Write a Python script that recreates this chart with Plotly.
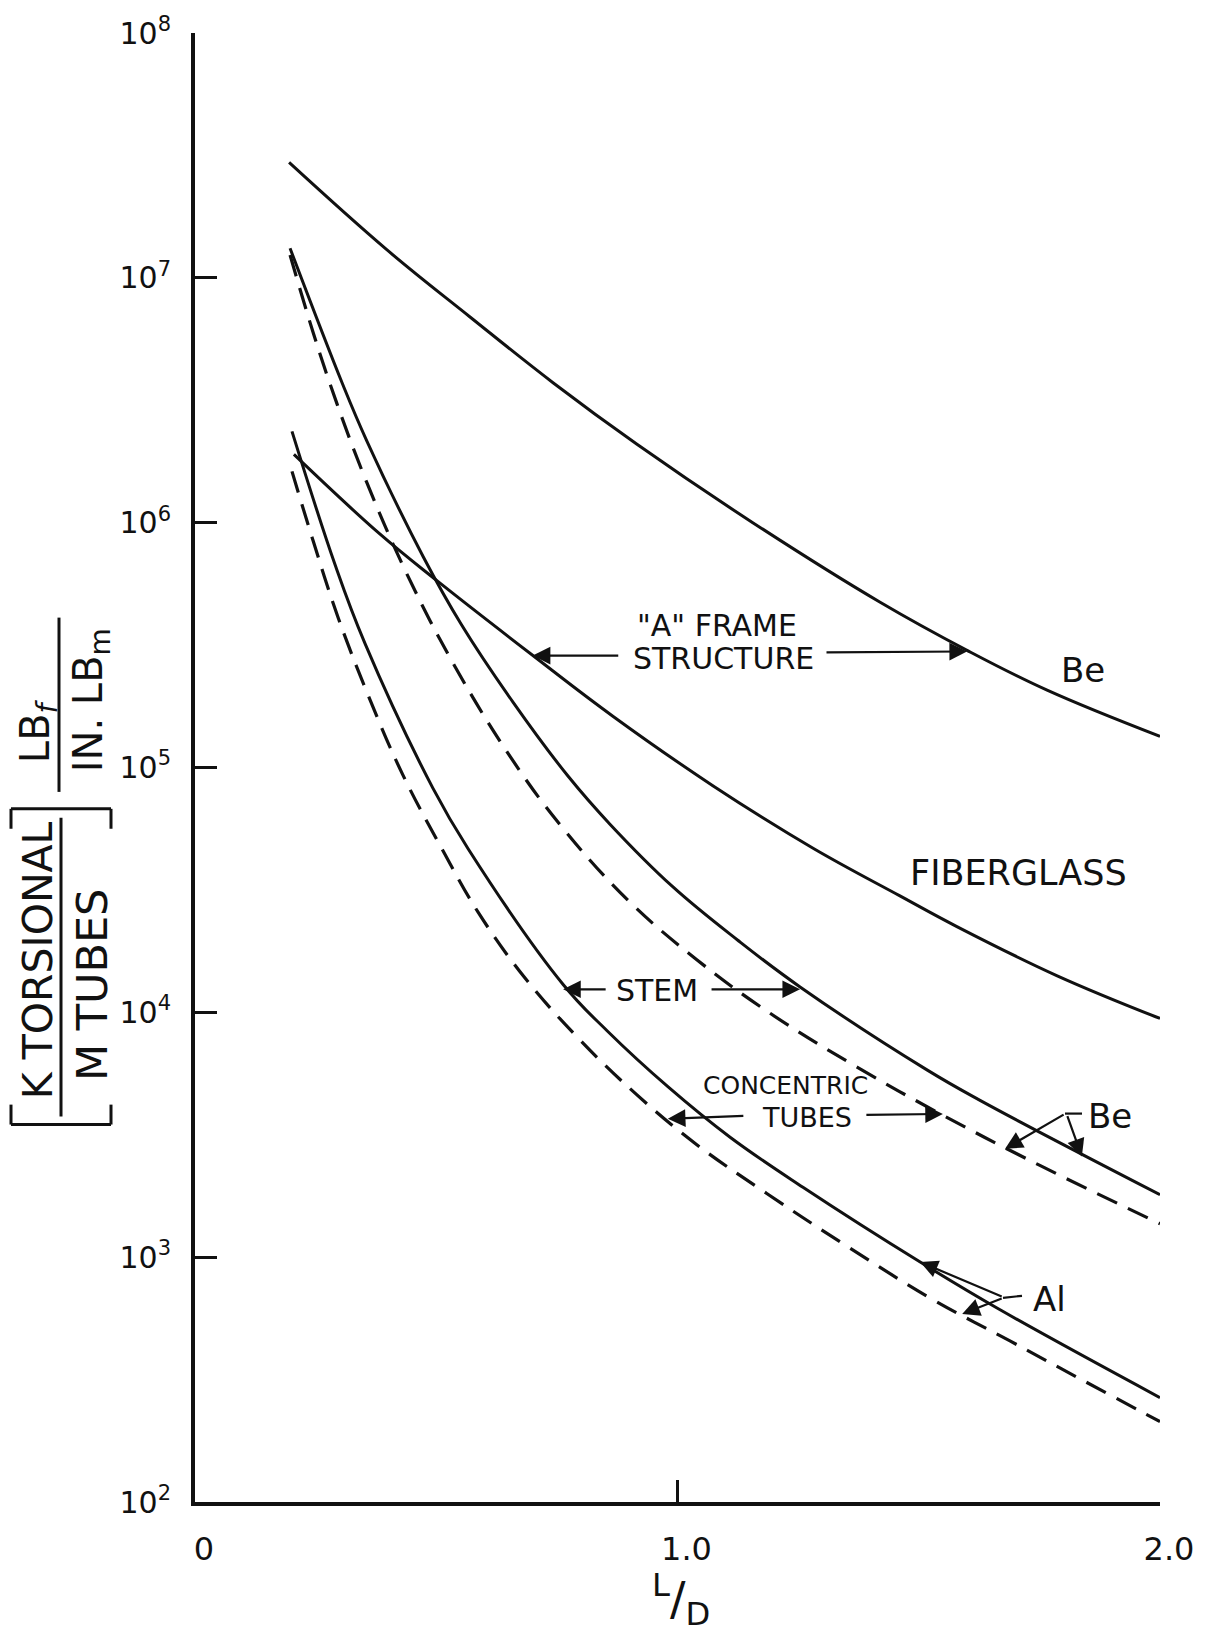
import plotly.graph_objects as go

# ---------------- data ----------------
# "A" frame structure, Be (solid)
ld_be_frame = [0.195, 0.398, 0.570, 0.742, 0.916, 1.156, 1.420, 1.600, 1.766, 2.0]
k_be_frame = [2.96e7, 1.30e7, 6.92e6, 3.73e6, 2.09e6, 1.00e6, 4.73e5, 3.01e5, 2.07e5, 1.34e5]

# "A" frame structure, fiberglass (solid)
ld_fg_frame = [0.205, 0.383, 0.502, 0.701, 0.866, 1.074, 1.281, 1.461, 1.579, 1.787, 2.0]
k_fg_frame = [1.90e6, 8.99e5, 5.78e5, 2.86e5, 1.62e5, 8.41e4, 4.68e4, 2.99e4, 2.24e4, 1.41e4, 9.44e3]

# Stem, Be (solid)
ld_be_stem = [0.197, 0.305, 0.356, 0.473, 0.553, 0.659, 0.773, 0.860, 0.990, 1.125, 1.254,
              1.517, 1.627, 2.0]
k_be_stem = [1.32e7, 3.72e6, 2.16e6, 7.26e5, 3.81e5, 1.85e5, 9.23e4, 5.87e4, 3.26e4, 1.97e4,
             1.27e4, 5.82e3, 4.37e3, 1.80e3]

# Concentric tubes, Be (dashed)
ld_be_tubes = [0.197, 0.245, 0.294, 0.356, 0.439, 0.539, 0.653, 0.756, 0.895, 1.040, 1.192,
               1.373, 1.551, 1.751, 2.0]
k_be_tubes = [1.24e7, 5.97e6, 3.07e6, 1.46e6, 6.18e5, 2.58e5, 1.11e5, 5.86e4, 2.90e4, 1.64e4,
              9.91e3, 5.96e3, 3.79e3, 2.37e3, 1.37e3]

# Stem, Al (solid)
ld_al_stem = [0.201, 0.290, 0.352, 0.493, 0.566, 0.763, 0.854, 0.980, 1.109, 1.260, 1.503,
              1.664, 2.0]
k_al_stem = [2.36e6, 6.76e5, 3.22e5, 8.24e4, 4.66e4, 1.30e4, 8.41e3, 4.97e3, 3.09e3, 1.93e3,
             955, 617, 267]

# Concentric tubes, Al (dashed)
ld_al_tubes = [0.201, 0.245, 0.296, 0.359, 0.431, 0.514, 0.587, 0.684, 0.798, 0.916, 1.040,
               1.185, 1.351, 1.527, 1.689, 1.840, 2.0]
k_al_tubes = [1.62e6, 8.41e5, 4.13e5, 1.97e5, 9.31e4, 4.57e4, 2.56e4, 1.38e4, 7.71e3, 4.60e3,
              2.88e3, 1.82e3, 1.11e3, 675, 455, 314, 213]

# axis ticks
x_tick_vals = [0, 1, 2]
x_tick_text = ["0", "1.0", "2.0"]
y_tick_vals = [1e2, 1e3, 1e4, 1e5, 1e6, 1e7, 1e8]
y_tick_text = ["10<sup>2</sup>", "10<sup>3</sup>", "10<sup>4</sup>", "10<sup>5</sup>",
               "10<sup>6</sup>", "10<sup>7</sup>", "10<sup>8</sup>"]

# callout arrows: (tip L/D, tip log10 K, tail offset x px, tail offset y px)
callout_arrows = [
    (0.700, 5.457, 87, 0),      # "A" frame -> fiberglass
    (1.600, 5.474, -142, 1),    # "A" frame -> Be
    (0.763, 4.094, 44, 0),      # stem -> Al
    (1.254, 4.094, -90, 0),     # stem -> Be
    (0.980, 3.565, 77, -3),     # tubes -> Al
    (1.550, 3.585, -78, 1),     # tubes -> Be
    (1.679, 3.443, 60, -35),    # Be -> tubes
    (1.838, 3.411, -15, -42),   # Be -> stem
    (1.503, 2.980, 83, 35),     # Al -> stem
    (1.590, 2.768, 41, -16),    # Al -> tubes
]

# ---------------- figure ----------------
FONT = "DejaVu Sans"
INK = "#111111"

W, H = 1210, 1632
ML, MR, MT, MB = 195, 50, 27, 130
PW = W - ML - MR
PH = H - MT - MB


def PX(px):
    return (px - ML) / PW


def PY(py):
    return (H - MB - py) / PH


fig = go.Figure()

series = [
    (ld_be_frame, k_be_frame, "solid", 3),
    (ld_fg_frame, k_fg_frame, "solid", 3),
    (ld_be_stem, k_be_stem, "solid", 3),
    (ld_be_tubes, k_be_tubes, "22px,12px", 3.2),
    (ld_al_stem, k_al_stem, "solid", 3),
    (ld_al_tubes, k_al_tubes, "22px,12px", 3.2),
]
for xs, ys, dash, w in series:
    fig.add_trace(go.Scatter(
        x=xs, y=ys, mode="lines",
        line=dict(color=INK, width=w, dash=dash, shape="spline", smoothing=1.1),
        hoverinfo="skip", showlegend=False,
    ))

fig.update_xaxes(
    range=[0, 2], showgrid=False, zeroline=False,
    showline=True, linewidth=4, linecolor=INK,
    ticks="inside", ticklen=22, tickwidth=3, tickcolor=INK,
    tickvals=x_tick_vals, ticktext=x_tick_text,
    tickfont=dict(family=FONT, size=32, color=INK),
    ticklabelstandoff=16, ticklabelshift=9,
)
fig.update_yaxes(
    type="log", range=[2, 8], showgrid=False, zeroline=False,
    showline=True, linewidth=4, linecolor=INK,
    ticks="inside", ticklen=22, tickwidth=3, tickcolor=INK,
    tickvals=y_tick_vals, ticktext=y_tick_text,
    tickfont=dict(family=FONT, size=30, color=INK),
    ticklabelstandoff=14,
)

ann = []


def label(text, x, ly, size):
    ann.append(dict(text=text, x=x, y=ly, xref="x", yref="y", showarrow=False,
                    xanchor="center", yanchor="middle",
                    font=dict(family=FONT, size=size, color=INK)))


# curve labels (y given as log10 for log axis)
label("Be", 1.840, 5.400, 34)
label("FIBERGLASS", 1.706, 4.570, 35)
label("\"A\" FRAME", 1.082, 5.579, 30)
label("STRUCTURE", 1.096, 5.445, 30)
label("STEM", 0.958, 4.090, 30)
label("CONCENTRIC", 1.223, 3.700, 25)
label("TUBES", 1.268, 3.570, 27)
label("Be", 1.896, 3.578, 34)
label("Al", 1.770, 2.829, 34)

for x, ly, ax, ay in callout_arrows:
    ann.append(dict(text="", x=x, y=ly, xref="x", yref="y", ax=ax, ay=ay,
                    showarrow=True, arrowhead=2, arrowsize=1.6, arrowwidth=2.2,
                    arrowcolor=INK, standoff=0, startstandoff=0))

# x axis title  L/D
ann.append(dict(text="<sup>L</sup>/<sub>D</sub>", x=PX(681), y=PY(1600), xref="paper", yref="paper",
                showarrow=False, xanchor="center", yanchor="middle",
                font=dict(family=FONT, size=46, color=INK)))


# y axis title pieces (rotated)
def ytext(text, cx, cy, size):
    ann.append(dict(text=text, x=PX(cx), y=PY(cy), xref="paper", yref="paper",
                    showarrow=False, textangle=-90, xanchor="center", yanchor="middle",
                    font=dict(family=FONT, size=size, color=INK)))


ytext("K TORSIONAL", 38, 958, 41)
ytext("M TUBES", 92, 983, 43)
ytext("LB<sub><i>f</i></sub>", 38, 728, 40)
ytext("IN. LB<sub>m</sub>", 91, 697, 40)

shapes = []


def seg(x0, y0, x1, y1, w=3):
    shapes.append(dict(type="line", xref="paper", yref="paper",
                       x0=PX(x0), y0=PY(y0), x1=PX(x1), y1=PY(y1),
                       line=dict(color=INK, width=w)))


# fraction bars
seg(61, 815, 61, 1115)
seg(59, 614, 59, 789)
# bracket
seg(11, 806, 111, 806)
seg(11, 806, 11, 826)
seg(111, 806, 111, 826)
seg(11, 1123, 111, 1123)
seg(11, 1123, 11, 1103)
seg(111, 1123, 111, 1103)
# leaders next to labels
seg(1065, 1112, 1082, 1112, 2.2)
seg(1003, 1297, 1022, 1295, 2.2)

fig.update_layout(
    width=W, height=H,
    margin=dict(l=ML, r=MR, t=MT, b=MB, pad=0),
    plot_bgcolor="white", paper_bgcolor="white",
    showlegend=False,
    annotations=ann, shapes=shapes,
    font=dict(family=FONT, color=INK),
)

fig.write_html("out.html", config={"displayModeBar": False},
               post_script="document.body.style.margin='0';")
